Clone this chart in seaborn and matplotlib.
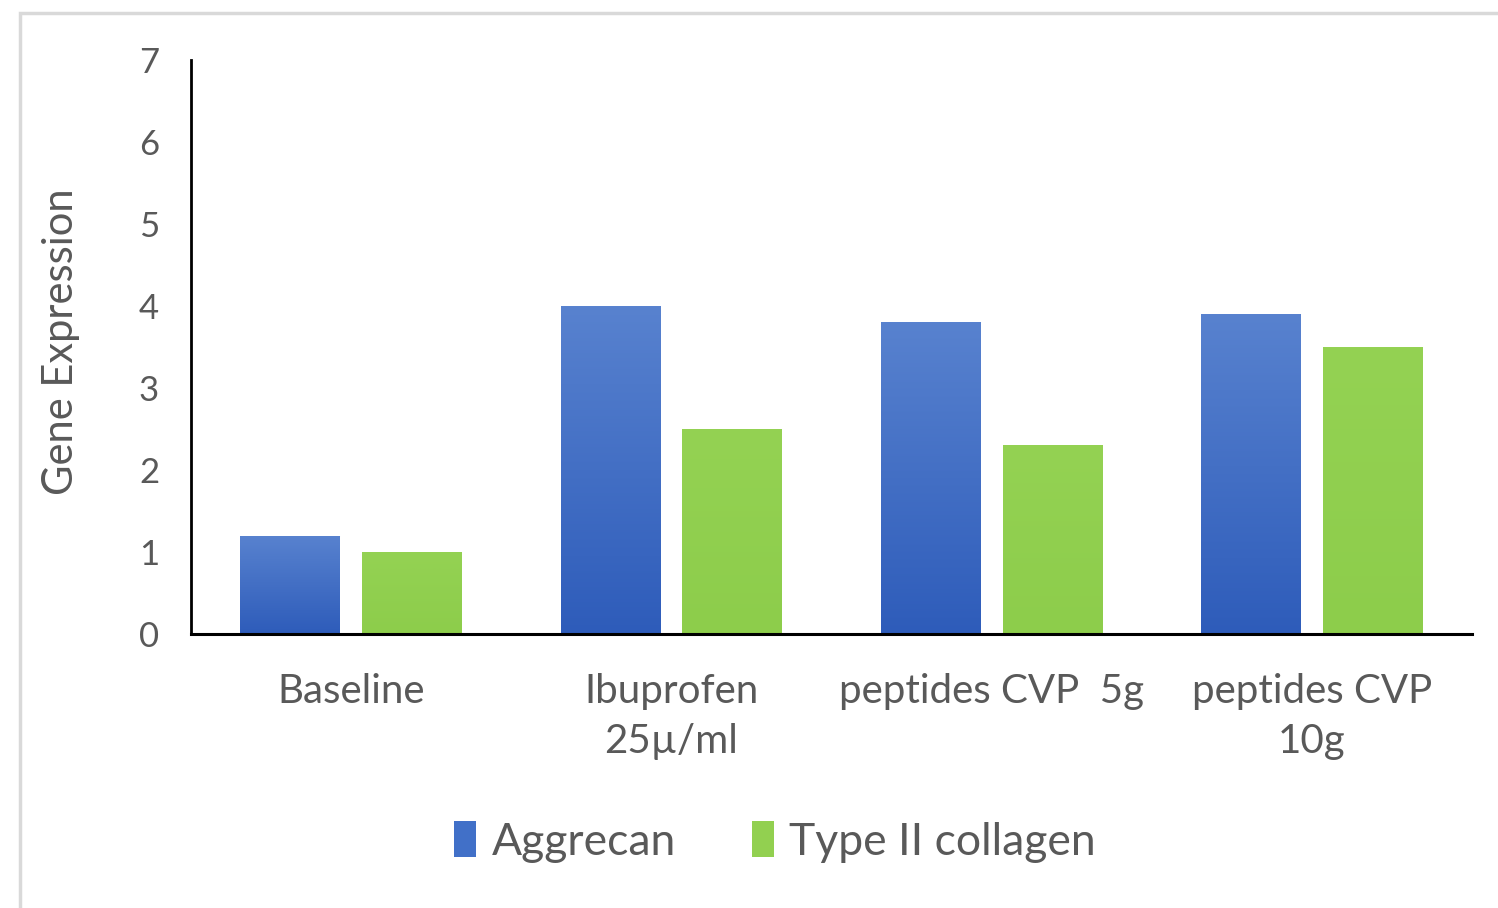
import numpy as np
import pandas as pd
import matplotlib
matplotlib.use("Agg")
import matplotlib.pyplot as plt
import matplotlib.patches as mpatches
from matplotlib.colors import LinearSegmentedColormap
import seaborn as sns

# Treatment groups and measured expression per gene
categories = ["Baseline", "Ibuprofen\n25µ/ml", "peptides CVP  5g", "peptides CVP\n10g"]
series = ["Aggrecan", "Type II collagen"]
aggrecan = [1.2, 4.0, 3.8, 3.9]
collagen = [1.0, 2.5, 2.3, 3.5]
y_ticks = [0, 1, 2, 3, 4, 5, 6, 7]

df = pd.DataFrame({
    "group": categories * 2,
    "gene": [series[0]] * len(categories) + [series[1]] * len(categories),
    "value": aggrecan + collagen,
})

sns.set_theme(style="white")
plt.rcParams["font.family"] = ["Lato", "DejaVu Sans"]
text_color = "#595959"

blue = "#4170c8"
green = "#92d050"

fig = plt.figure(figsize=(14.98, 9.08), dpi=100)
ax = fig.add_axes([191 / 1498, 1 - 634 / 908, (1472 - 191) / 1498, (634 - 60) / 908])

sns.barplot(data=df, x="group", y="value", hue="gene", order=categories,
            hue_order=series, palette=[blue, green], width=0.76, gap=0.18,
            saturation=1, ax=ax, legend=True)

# Vertical shading on the bars
grad = {
    blue: LinearSegmentedColormap.from_list("b", ["#2e5cba", "#5882cf"]),
    green: LinearSegmentedColormap.from_list("g", ["#8dcd4b", "#94d253"]),
}
ramp = np.linspace(0, 1, 256).reshape(-1, 1)
for patch in list(ax.patches):
    fc = matplotlib.colors.to_hex(patch.get_facecolor())
    cmap = grad[blue] if fc == matplotlib.colors.to_hex(blue) else grad[green]
    x0, y0 = patch.get_x(), patch.get_y()
    w, h = patch.get_width(), patch.get_height()
    if h <= 0:
        continue
    im = ax.imshow(ramp, cmap=cmap, extent=[x0, x0 + w, y0, y0 + h],
                   origin="lower", aspect="auto", zorder=patch.get_zorder() + 0.1)
    im.set_clip_path(patch)

ax.get_legend().remove()

ax.set_xlim(-0.5, 3.5)
ax.set_ylim(0, 7)
ax.set_yticks(y_ticks)
ax.set_xlabel("")
ax.set_ylabel("Gene Expression", fontsize=30, color=text_color)
ax.yaxis.set_label_coords(-0.087, 0.51)

ax.tick_params(axis="both", length=0, labelcolor=text_color)
ax.tick_params(axis="y", labelsize=25, pad=23)
ax.tick_params(axis="x", labelsize=29, pad=28)
for lbl in ax.get_xticklabels():
    lbl.set_linespacing(1.45)

for side in ["top", "right"]:
    ax.spines[side].set_visible(False)
ax.spines["left"].set_color("black")
ax.spines["left"].set_linewidth(2.0)
ax.spines["bottom"].set_color("black")
ax.spines["bottom"].set_linewidth(2.2)

leg_handles = [mpatches.Patch(facecolor=blue if i == 0 else green, edgecolor="none")
               for i in range(len(series))]
fig.legend(leg_handles, series, loc="center", bbox_to_anchor=(775 / 1498, 1 - 842 / 908),
           ncol=2, frameon=False, fontsize=32, labelcolor=text_color,
           handlelength=0.5, handleheight=0.85, handletextpad=0.35, columnspacing=1.7)

# Outer chart frame
frame = mpatches.Rectangle((20 / 1498, -0.05), 1.2, 1 - 13 / 908 + 0.05,
                           transform=fig.transFigure, fill=False,
                           edgecolor="#d9d9d9", linewidth=2.5, clip_on=False)
fig.patches.append(frame)

fig.savefig("out.png", dpi=100, facecolor="white")
